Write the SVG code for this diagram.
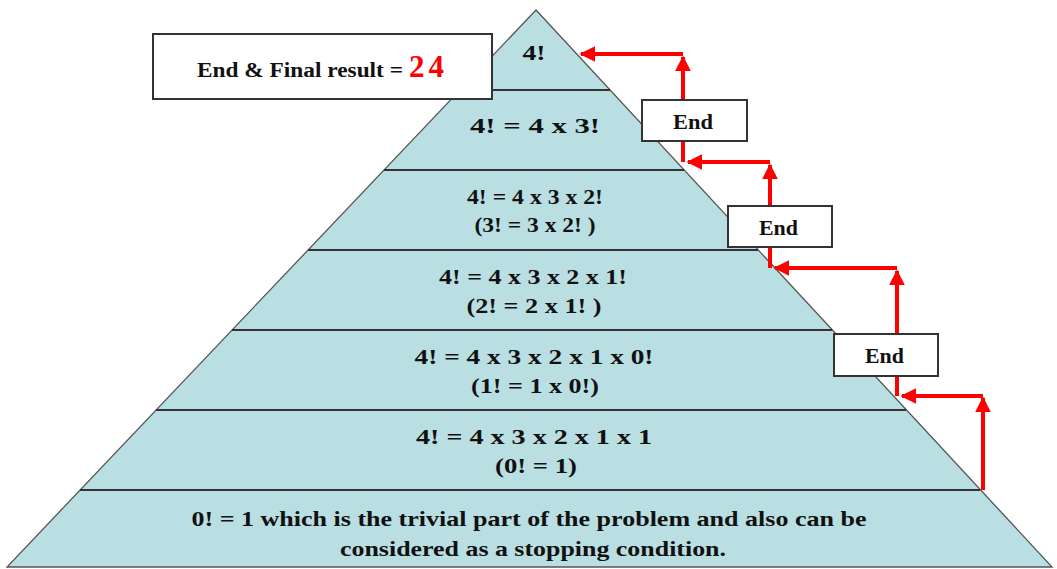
<svg xmlns="http://www.w3.org/2000/svg" width="1057" height="569" viewBox="0 0 1057 569">
<style>
.band{fill:#b9dfe2;stroke:none}
.edge{fill:none;stroke:#555;stroke-width:1.3}
.sep{stroke:#333;stroke-width:2.2}
.t{font-family:"Liberation Serif",serif;font-weight:bold;font-size:22px;fill:#111;text-anchor:middle}
.box{fill:#fff;stroke:#333;stroke-width:2}
.lbl{font-family:"Liberation Serif",serif;font-weight:bold;font-size:20px;fill:#111;text-anchor:start}
.arr{fill:none;stroke:#f00;stroke-width:4}
</style>
<defs>
<marker id="ah" viewBox="0 0 10 10" refX="9" refY="5" markerWidth="4" markerHeight="4" orient="auto" markerUnits="strokeWidth">
<path d="M0,0 L10,5 L0,10 z" fill="#f00"/>
</marker>
</defs>
<g id="pyramid">
<polygon class="band" points="536,10 7,567 1052,567"/>
<polygon class="edge" points="536,10 7,567 1052,567"/>
<line class="sep" x1="460" y1="90" x2="610" y2="90"/>
<line class="sep" x1="384" y1="170" x2="684" y2="170"/>
<line class="sep" x1="308" y1="250" x2="758" y2="250"/>
<line class="sep" x1="232" y1="330" x2="832" y2="330"/>
<line class="sep" x1="156" y1="410" x2="906" y2="410"/>
<line class="sep" x1="80" y1="490" x2="980" y2="490"/>
</g>
<g id="level1"><text class="t" x="534" y="60" textLength="23" lengthAdjust="spacingAndGlyphs">4!</text></g>
<g id="level2"><text class="t" x="535" y="133" textLength="130" lengthAdjust="spacingAndGlyphs">4! = 4 x 3!</text></g>
<g id="level3"><text class="t" x="535" y="204" textLength="136" lengthAdjust="spacingAndGlyphs">4! = 4 x 3 x 2!</text><text class="t" x="535" y="232" textLength="121" lengthAdjust="spacingAndGlyphs">(3! = 3 x 2! )</text></g>
<g id="level4"><text class="t" x="533" y="284" textLength="188" lengthAdjust="spacingAndGlyphs">4! = 4 x 3 x 2 x 1!</text><text class="t" x="534" y="313" textLength="135" lengthAdjust="spacingAndGlyphs">(2! = 2 x 1! )</text></g>
<g id="level5"><text class="t" x="534" y="364" textLength="239" lengthAdjust="spacingAndGlyphs">4!  = 4 x 3 x 2 x 1 x 0!</text><text class="t" x="535" y="393" textLength="128" lengthAdjust="spacingAndGlyphs">(1! = 1 x 0!)</text></g>
<g id="level6"><text class="t" x="534" y="444" textLength="236" lengthAdjust="spacingAndGlyphs">4! = 4 x 3 x 2 x 1 x 1</text><text class="t" x="536" y="473" textLength="82" lengthAdjust="spacingAndGlyphs">(0! = 1)</text></g>
<g id="level7"><text class="t" x="529" y="526" textLength="675" lengthAdjust="spacingAndGlyphs">0! = 1 which is the trivial part of the problem and also can be</text><text class="t" x="533" y="556" textLength="386" lengthAdjust="spacingAndGlyphs">considered as a stopping condition.</text></g>
<g id="connectors">
<path class="arr" d="M983,490 L983,398" marker-end="url(#ah)"/>
<path class="arr" d="M983,396 L902,396" marker-end="url(#ah)"/>
<path class="arr" d="M897,396 L897,271" marker-end="url(#ah)"/>
<path class="arr" d="M897,268 L775,268" marker-end="url(#ah)"/>
<path class="arr" d="M770,268 L770,165" marker-end="url(#ah)"/>
<path class="arr" d="M770,162 L688,162" marker-end="url(#ah)"/>
<path class="arr" d="M683,162 L683,57" marker-end="url(#ah)"/>
<path class="arr" d="M683,54 L581,54" marker-end="url(#ah)"/>
</g>
<g id="final"><rect class="box" x="153" y="34" width="339" height="65"/><text class="lbl" x="197" y="77" textLength="206" lengthAdjust="spacingAndGlyphs">End &amp; Final result =</text><text class="lbl" x="409" y="77" style="fill:#f00;font-size:31px" textLength="35">24</text></g>
<g id="end1"><rect class="box" x="642" y="100" width="105" height="41"/><text class="lbl" x="673" y="129" textLength="40" lengthAdjust="spacingAndGlyphs">End</text></g>
<g id="end2"><rect class="box" x="728" y="206" width="104" height="41"/><text class="lbl" x="759" y="235" textLength="39" lengthAdjust="spacingAndGlyphs">End</text></g>
<g id="end3"><rect class="box" x="834" y="334" width="104" height="42"/><text class="lbl" x="865" y="363" textLength="39" lengthAdjust="spacingAndGlyphs">End</text></g>
</svg>
